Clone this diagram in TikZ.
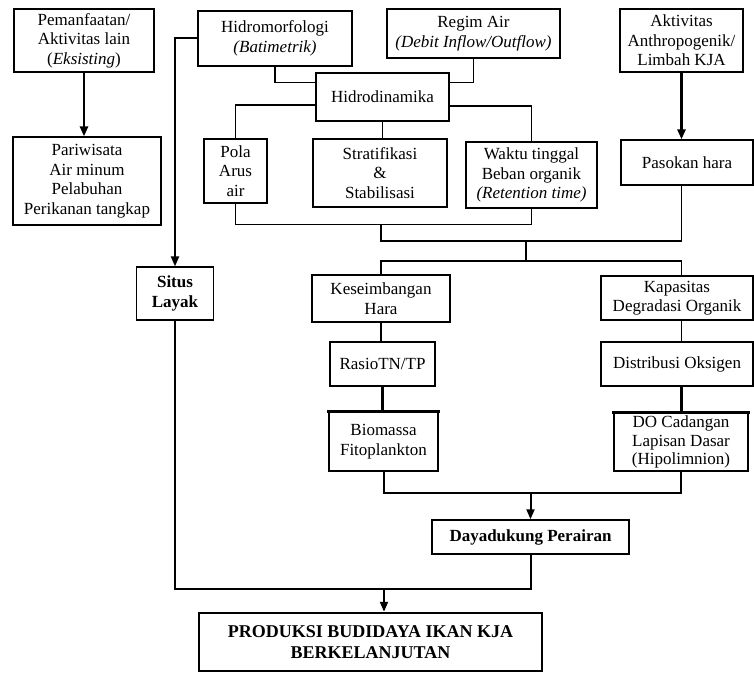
\documentclass[tikz,border=0pt]{standalone}
\usepackage{fontspec}
\setmainfont{Liberation Serif}
\usetikzlibrary{arrows.meta,calc}
\begin{document}
\begin{tikzpicture}[x=1pt,y=-1pt,
  box/.style={draw, line width=1.2pt, align=center, inner sep=0pt,
    font=\fontsize{17}{19.5}\selectfont},
  conn/.style={line width=1.2pt},
  thktwo/.style={line width=2pt},
  thkthree/.style={line width=3pt},
  arr/.style={-{Triangle[length=10pt,width=8pt]}}]
\useasboundingbox (0,0) rectangle (754,674);
% boxes
\node[box, minimum width=140, minimum height=63] (pem) at (84,40.5) {Pemanfaatan/\\Aktivitas lain\\(\textit{Eksisting})};
\node[box, minimum width=148, minimum height=88] (par) at (87,181) {Pariwisata\\Air minum\\Pelabuhan\\Perikanan tangkap};
\node[box, minimum width=154, minimum height=55] (hmf) at (275,38.5) {Hidromorfologi\\\textit{(Batimetrik)}};
\node[box, minimum width=173, minimum height=49] (reg) at (473.5,33.5) {Regim Air\\\textit{(Debit Inflow/Outflow)}};
\node[box, minimum width=123, minimum height=63] (akt) at (681.5,40.5) {Aktivitas\\Anthropogenik/\\Limbah KJA};
\node[box, minimum width=133, minimum height=48] (hdn) at (382.5,97) {Hidrodinamika};
\node[box, minimum width=63, minimum height=64] (pola) at (235.5,171) {Pola\\Arus\\air};
\node[box, minimum width=134, minimum height=68] (strat) at (380,173) {Stratifikasi\\\&\\Stabilisasi};
\node[box, minimum width=131, minimum height=66] (wak) at (531.5,175) {Waktu tinggal\\Beban organik\\\textit{(Retention time)}};
\node[box, minimum width=132, minimum height=45] (pas) at (687,162.5) {Pasokan hara};
\node[box, minimum width=77, minimum height=53] (situs) at (175,293.5) {\textbf{Situs}\\\textbf{Layak}};
\node[box, minimum width=138, minimum height=47] (kes) at (381,298.5) {Keseimbangan\\Hara};
\node[box, minimum width=152, minimum height=44] (kap) at (677,298) {Kapasitas\\Degradasi Organik};
\node[box, minimum width=105, minimum height=44] (rasio) at (382.5,364) {RasioTN/TP};
\node[box, minimum width=152, minimum height=44] (dist) at (677,364) {Distribusi Oksigen};
\node[box, minimum width=109, minimum height=59] (bio) at (383.5,441.5) {Biomassa\\Fitoplankton};
\node[box, minimum width=134, minimum height=58, font=\fontsize{17}{18.5}\selectfont] (do) at (681,442) {DO Cadangan\\Lapisan Dasar\\(Hipolimnion)};
\node[box, line width=1.5pt, minimum width=197, minimum height=34] (day) at (530.5,537) {\textbf{Dayadukung Perairan}};
\node[box, line width=2.5pt, minimum width=343, minimum height=58,
  font=\fontsize{18}{21.5}\selectfont\bfseries] (prod) at (370.5,642) {PRODUKSI BUDIDAYA IKAN KJA\\BERKELANJUTAN};
% connectors
\draw[line width=2.5pt, arr] (pem.south) -- (pem.south |- par.north);
\draw[line width=2.5pt, arr] (akt.south) -- (akt.south |- pas.north);
\draw[thktwo, arr] (hmf.west) -| (situs.north);
\draw[conn] (hmf.south) |- ($(hdn.north west)+(0,10)$);
\draw[conn] (reg.south) |- ($(hdn.north east)+(0,10)$);
\draw[conn] ($(hdn.west)+(0,8)$) -| (pola.north);
\draw[conn] (hdn.south) -- (hdn.south |- strat.north);
\draw[conn] ($(hdn.east)+(0,9)$) -| (wak.north);
\coordinate (j1) at ($(pola.south)+(0,21)$);
\draw[conn] (pola.south) -- (j1) -| (wak.south);
\coordinate (j2) at (381,241);
\draw[conn] (j1 -| j2) -- (j2) -| (pas.south -| akt.south);
\coordinate (j3) at (526,261);
\draw[conn] (j2 -| j3) -- (j3);
\draw[conn] (kes.north) |- (j3) -| (kap.north -| akt.south);
\draw[conn] (kes.south) -- (kes.south |- rasio.north);
\draw[thkthree] (rasio.south) -- (rasio.south |- bio.north);
\draw[conn] (kap.south -| akt.south) -- (dist.north -| akt.south);
\draw[thkthree] (dist.south -| akt.south) -- (do.north -| akt.south);
\draw[thkthree] ($(bio.north west)+(-1,0)$) -- ($(bio.north east)+(1,0)$);
\draw[thkthree] ($(do.north west)+(-1,0)$) -- ($(do.north east)+(1,0)$);
\coordinate (j4) at ($(bio.south)+(0,21)$);
\draw[thktwo] (bio.south) -- (j4) -| (do.south);
\draw[thktwo, arr] (j4 -| day.north) -- (day.north);
\coordinate (j5) at ($(day.south)+(0,34)$);
\draw[thktwo] (day.south) -- (j5) -| (situs.south);
\coordinate (j6) at (384,588);
\draw[thktwo, arr] (j6) -- (j6 |- prod.north);
\end{tikzpicture}
\end{document}
